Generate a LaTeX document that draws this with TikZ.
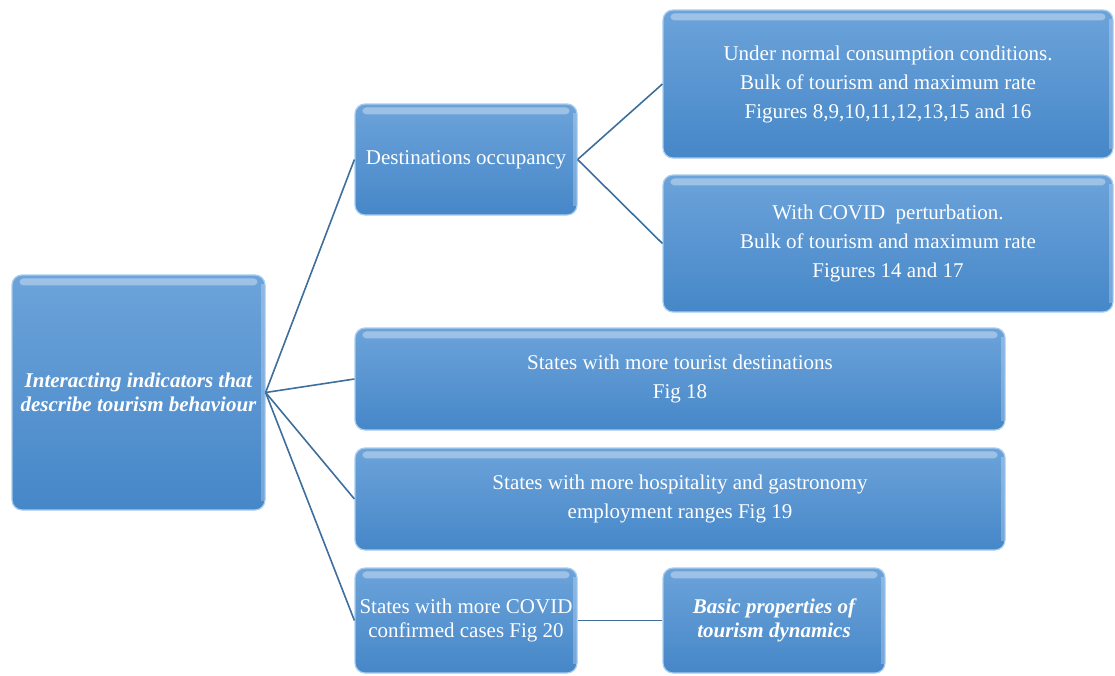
\documentclass[tikz,border=0pt]{standalone}
\usepackage{fontspec}
\setmainfont{Liberation Serif}
\definecolor{boxtop}{HTML}{6CA3DA}
\definecolor{boxbot}{HTML}{4687C8}
\definecolor{boxedge}{HTML}{A8CDEE}
\definecolor{linkblue}{HTML}{3E6F9C}
\tikzset{
  box/.style={rounded corners=10pt, top color=boxtop, bottom color=boxbot,
    draw=boxedge, line width=1.2pt, text=white, align=center, inner sep=0pt,
    font=\fontsize{21}{29}\selectfont},
  tight/.style={font=\fontsize{21}{23.5}\selectfont},
  link/.style={draw=linkblue, line width=1.6pt},
}
% glossy strip along the top edge of a box
\newcommand{\gloss}[1]{%
  \fill[white, opacity=0.35, rounded corners=4pt]
    ([xshift=8pt,yshift=-4pt]#1.north west) rectangle ([xshift=-8pt,yshift=-11pt]#1.north east);
  \fill[white, opacity=0.25]
    ([xshift=-5pt,yshift=-10pt]#1.north east) rectangle ([xshift=-2pt,yshift=10pt]#1.south east);
}
\begin{document}
\begin{tikzpicture}[x=1pt,y=-1pt]
\useasboundingbox (0,0) rectangle (1115,675);
\clip (0,0) rectangle (1115,675);

% root
\node[box, tight, minimum width=253pt, minimum height=235pt] (root) at (138.5,392.5)
  {\bfseries\itshape Interacting indicators that\\ \bfseries\itshape describe tourism behaviour};

% first level
\node[box, minimum width=222pt, minimum height=111pt] (occ) at (466,159.5)
  {Destinations occupancy};
\node[box, minimum width=650pt, minimum height=102pt] (dest) at (680,379)
  {States with more tourist destinations\\ Fig 18};
\node[box, minimum width=650pt, minimum height=102pt] (hosp) at (680,499)
  {States with more hospitality and gastronomy\\ employment ranges Fig 19};
\node[box, tight, minimum width=222pt, minimum height=105pt] (covid) at (466,620.5)
  {States with more COVID\\ confirmed cases Fig 20};

% second level
\node[box, minimum width=450pt, minimum height=148pt] (normal) at (888,84)
  {Under normal consumption conditions.\\ Bulk of tourism and maximum rate\\ Figures 8,9,10,11,12,13,15 and 16};
\node[box, minimum width=450pt, minimum height=137pt] (pert) at (888,243.5)
  {With COVID\ \ perturbation.\\ Bulk of tourism and maximum rate\\ Figures 14 and 17};
\node[box, tight, minimum width=222pt, minimum height=105pt] (basic) at (774,620.5)
  {\bfseries\itshape Basic properties of\\ \bfseries\itshape tourism dynamics};

\foreach \n in {root,occ,dest,hosp,covid,normal,pert,basic} {\gloss{\n}}

% connectors
\draw[link] (root.east) -- (occ.west);
\draw[link] (root.east) -- (dest.west);
\draw[link] (root.east) -- (hosp.west);
\draw[link] (root.east) -- (covid.west);
\draw[link] (occ.east) -- (normal.west);
\draw[link] (occ.east) -- (pert.west);
\draw[link] (covid.east) -- (basic.west);
\end{tikzpicture}
\end{document}
